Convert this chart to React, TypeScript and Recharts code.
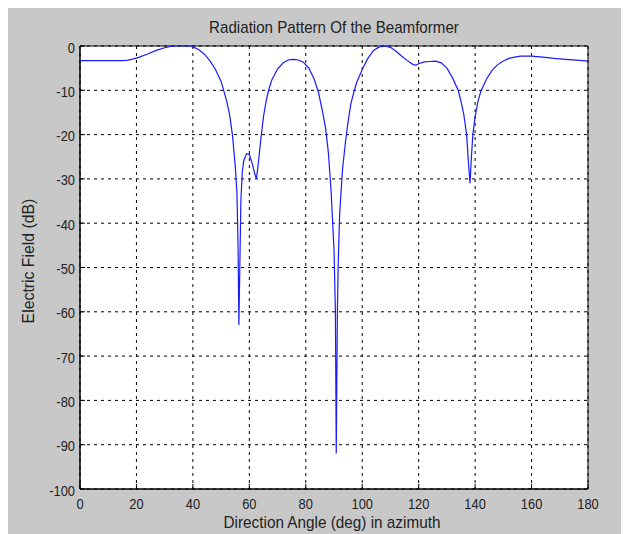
import { LineChart, Line, XAxis, YAxis, CartesianGrid, ReferenceArea } from 'recharts';

// direction angle (deg) and electric field (dB)
const angles = [
    0, 5, 10, 15, 17, 19, 21, 24, 27, 30, 33, 36, 39, 40, 42, 44, 46, 48, 50, 52,
    53, 54, 55, 55.6, 56, 56.3, 56.6, 57, 57.5, 58, 59, 60, 61, 62, 62.5, 63, 64, 65, 66, 67,
    68, 70, 72, 74, 75.5, 77, 79, 81, 83, 84.5, 86, 87, 88, 89, 90, 90.5, 90.8, 91.2, 91.5, 92,
    93, 94, 95, 96, 97, 98, 100, 102, 104, 106, 108, 110, 112, 114, 116, 118, 119, 120, 122, 124,
    126, 128, 130, 132, 134, 135, 136, 137, 137.6, 138.2, 138.7, 139.2, 140, 141, 142, 144, 146, 148, 150, 152,
    154, 156, 160, 164, 168, 172, 176, 180,
];
const fieldDb = [
    -3.3, -3.3, -3.3, -3.3, -3.2, -2.9, -2.5, -1.8, -1.0, -0.4, 0, 0, 0, -0.2, -0.8, -1.8, -3.3, -5.3, -8, -12.5,
    -15.5, -20, -27, -33, -45, -63, -51, -35, -28.5, -26, -24.3, -24.5, -26.5, -29, -30, -27.5, -21.5, -16, -12.3, -9.6,
    -7.6, -5.2, -3.8, -3.1, -3.0, -3.1, -3.6, -4.9, -7.5, -10.5, -15, -18.5, -24, -33, -46, -60, -92, -60, -49, -38,
    -28, -22, -17, -13, -10.5, -8.3, -5.3, -2.8, -1, -0.2, 0, -0.3, -1.2, -2.3, -3.3, -4.2, -4.3, -4.0, -3.6, -3.5,
    -3.4, -3.8, -5, -7.2, -10, -12.5, -15.5, -20, -26, -31, -25, -20, -16, -12.5, -10.3, -7.5, -5.5, -4.2, -3.4, -2.8,
    -2.5, -2.3, -2.3, -2.5, -2.8, -3.0, -3.2, -3.4,
];

const xTicks = [0, 20, 40, 60, 80, 100, 120, 140, 160, 180];
const yTicks = [0, -10, -20, -30, -40, -50, -60, -70, -80, -90, -100];

const data = angles.map((a, i) => ({ angle: a, db: fieldDb[i] }));

const FONT = '"Liberation Sans", Arial, sans-serif';
const W = 617;
const H = 526;
const GAP = 5; // tickSize + tickMargin

// narrow-looking tick label plus a short inward tick mark
function BottomTick(props: any) {
    const { x, y, payload } = props;
    return (
        <g transform={`translate(${x},${y})`}>
            <line x1={0} y1={-GAP} x2={0} y2={-GAP - 5} stroke="#000" />
            <text transform="scale(0.86,1)" textAnchor="middle" dy={15} fontSize={15} fill="#222" fontFamily={FONT}>
                {payload.value}
            </text>
        </g>
    );
}

function LeftTick(props: any) {
    const { x, y, payload } = props;
    return (
        <g transform={`translate(${x},${y})`}>
            <line x1={GAP} y1={0} x2={GAP + 5} y2={0} stroke="#000" />
            <text transform="scale(0.86,1)" textAnchor="end" dy={6.5} fontSize={15} fill="#222" fontFamily={FONT}>
                {payload.value}
            </text>
        </g>
    );
}

// inward tick marks only, for the top and right edges of the box
function TopTick(props: any) {
    const { x, y } = props;
    return <line x1={x} y1={y} x2={x} y2={y + 5} stroke="#000" />;
}

function RightTick(props: any) {
    const { x, y } = props;
    return <line x1={x} y1={y} x2={x - 5} y2={y} stroke="#000" />;
}

export default function App() {
    return (
        <div style={{ position: 'relative', width: W, height: H, background: '#c8c8c8', fontFamily: FONT }}>
            <LineChart
                width={W}
                height={H}
                data={data}
                margin={{ top: 38, right: 37, left: 12, bottom: 15 }}
            >
                <CartesianGrid
                    fill="#fff"
                    fillOpacity={1}
                    stroke="#000"
                    strokeDasharray="3 4"
                />
                <XAxis
                    type="number"
                    dataKey="angle"
                    domain={[0, 180]}
                    ticks={xTicks}
                    height={30}
                    tickLine={false}
                    axisLine={{ stroke: '#000' }}
                    tickSize={3}
                    tickMargin={2}
                    tick={<BottomTick />}
                    interval={0}
                />
                <XAxis
                    xAxisId="top"
                    orientation="top"
                    type="number"
                    dataKey="angle"
                    domain={[0, 180]}
                    ticks={xTicks}
                    height={0}
                    tickLine={false}
                    axisLine={false}
                    tickSize={0}
                    tickMargin={0}
                    tick={<TopTick />}
                    interval={0}
                />
                <YAxis
                    type="number"
                    domain={[-100, 0]}
                    ticks={yTicks}
                    width={60}
                    tickLine={false}
                    axisLine={{ stroke: '#000' }}
                    tickSize={3}
                    tickMargin={2}
                    tick={<LeftTick />}
                    interval={0}
                />
                <YAxis
                    yAxisId="right"
                    orientation="right"
                    type="number"
                    domain={[-100, 0]}
                    ticks={yTicks}
                    width={0}
                    tickLine={false}
                    axisLine={false}
                    tickSize={0}
                    tickMargin={0}
                    tick={<RightTick />}
                    interval={0}
                />
                <ReferenceArea x1={0} x2={180} y1={-100} y2={0} fill="none" stroke="#000" strokeWidth={1} ifOverflow="visible" />
                <Line
                    type="linear"
                    dataKey="db"
                    stroke="#1a1aff"
                    strokeWidth={1.2}
                    dot={false}
                    isAnimationActive={false}
                />
            </LineChart>

            {/* title and axis labels */}
            <div style={{ position: 'absolute', left: 0, width: 652, top: 10, textAlign: 'center', fontSize: 17, color: '#222', transform: 'scaleX(0.89)', transformOrigin: '326px 0' }}>
                Radiation Pattern Of the Beamformer
            </div>
            <div style={{ position: 'absolute', left: 0, width: 648, top: 505, textAlign: 'center', fontSize: 17, color: '#222', transform: 'scaleX(0.9)', transformOrigin: '324px 0' }}>
                Direction Angle (deg) in azimuth
            </div>
            <div
                style={{
                    position: 'absolute', left: 21, top: 253, transform: 'translate(-50%, -50%) rotate(-90deg) scaleX(0.93)',
                    whiteSpace: 'nowrap', fontSize: 17, color: '#222',
                }}
            >
                Electric Field (dB)
            </div>
        </div>
    );
}
